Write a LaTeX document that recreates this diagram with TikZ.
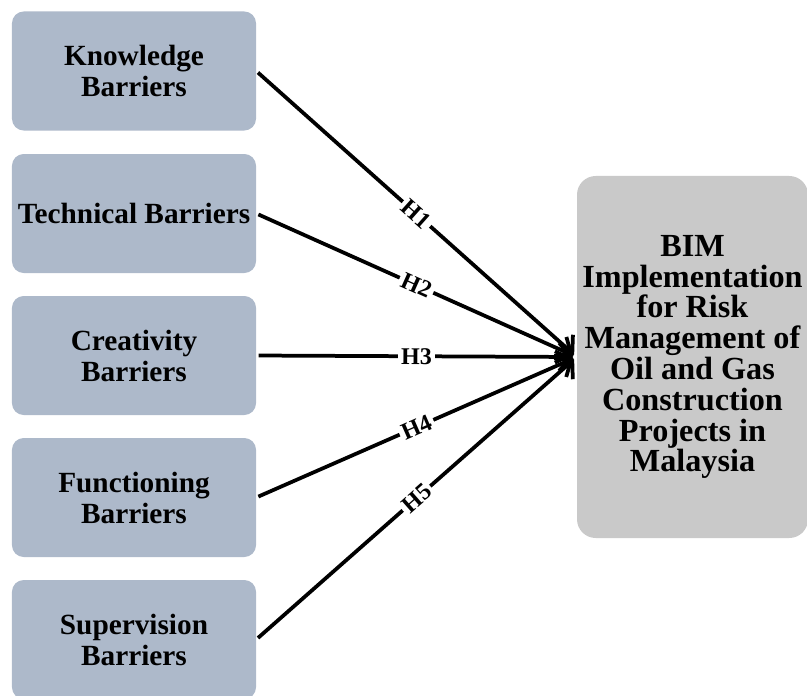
\documentclass[tikz,border=0pt]{standalone}
\usepackage{fontspec}
\setmainfont{Liberation Serif}
\usepackage{tikz}
\usetikzlibrary{arrows.meta}
\definecolor{barrierfill}{HTML}{ADB9CA}
\definecolor{bimfill}{HTML}{C9C9C9}
\tikzstyle{model}=[x=0.03cm, y=-0.03cm, font=\bfseries]
\tikzstyle{barrier}=[rectangle, rounded corners=10pt, fill=barrierfill, minimum width=7.32cm, minimum height=3.57cm, align=center, inner sep=2pt, font=\fontsize{25}{26.5}\selectfont\bfseries]
\tikzstyle{bim}=[rectangle, rounded corners=16pt, fill=bimfill, minimum width=6.93cm, minimum height=10.86cm, align=center, inner sep=2pt, font=\fontsize{27.5}{26.3}\selectfont\bfseries]
\tikzstyle{hyp}=[line width=3.2pt, -{Straight Barb[length=10pt,width=24pt]}, shorten <= 2pt, shorten >= 3pt]
\tikzstyle{hlab}=[sloped, fill=white, inner sep=2.5pt, font=\fontsize{20.5}{22}\selectfont\bfseries]

\begin{document}
\begin{tikzpicture}[model]
	\useasboundingbox (0,0) rectangle (807,695);
	%The barriers
	\draw (134,71) node[barrier] (know) {Knowledge\\Barriers};
	\draw (134,213.5) node[barrier] (tech) {Technical Barriers};
	\draw (134,355.5) node[barrier] (crea) {Creativity\\Barriers};
	\draw (134,497.5) node[barrier] (func) {Functioning\\Barriers};
	\draw (134,639.5) node[barrier] (sup) {Supervision\\Barriers};

	%The dependent variable
	\draw (692.5,357) node[bim] (impl) {BIM\\Implementation\\for Risk\\Management of\\Oil and Gas\\Construction\\Projects in\\Malaysia};

	%The hypotheses
	\draw[hyp] (know.east) -- node[hlab] {H1} (impl.west);
	\draw[hyp] (tech.east) -- node[hlab] {H2} (impl.west);
	\draw[hyp] (crea.east) -- node[hlab] {H3} (impl.west);
	\draw[hyp] (func.east) -- node[hlab] {H4} (impl.west);
	\draw[hyp] (sup.east) -- node[hlab] {H5} (impl.west);
\end{tikzpicture}
\end{document}
